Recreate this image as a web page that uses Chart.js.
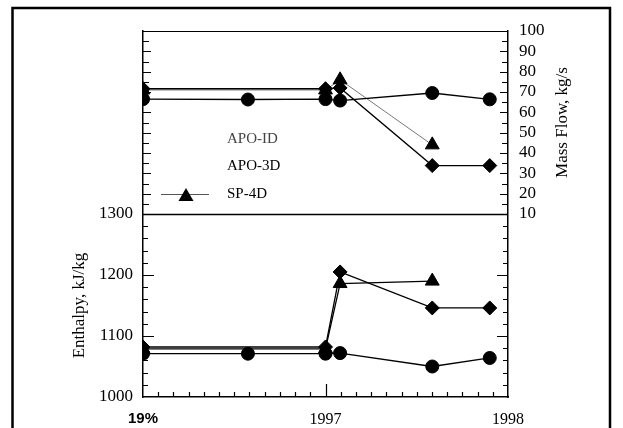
<!DOCTYPE html>
<html>
<head>
<meta charset="utf-8">
<title>Mass flow and enthalpy</title>
<script src="https://cdn.jsdelivr.net/npm/chart.js@4.4.0/dist/chart.umd.min.js"></script>
<style>
  html, body { margin: 0; padding: 0; background: #fff; }
  #wrap { position: relative; width: 623px; height: 428px; }
</style>
</head>
<body>
<div id="wrap"><canvas id="chart" width="623" height="428"></canvas></div>
<script>
// Sample dates (decimal years)
const YEARS_APO1D = [1996.0, 1996.575, 1997.0, 1997.08, 1997.585, 1997.9];
const YEARS_APO3D = [1996.0, 1997.0, 1997.08, 1997.585, 1997.9];
const YEARS_SP4D = [1996.0, 1997.0, 1997.08, 1997.585];

// Mass flow, kg/s (upper panel, right axis)
const FLOW_APO1D = [66.5, 66.3, 66.5, 65.8, 69.5, 66.4];
const FLOW_APO3D = [71.6, 71.6, 72.0, 33.8, 33.8];
const FLOW_SP4D = [71.0, 71.0, 76.0, 44.0];

// Enthalpy, kJ/kg (lower panel, left axis)
const ENTH_APO1D = [1071, 1071, 1071, 1072, 1050, 1064];
const ENTH_APO3D = [1082, 1082, 1205, 1146, 1146];
const ENTH_SP4D = [1079, 1079, 1186, 1190];

const SERIES_LABELS = ['APO-ID', 'APO-3D', 'SP-4D'];
const X_TICKS = [1996, 1997, 1998];
const X_LABELS = ['19%', '1997', '1998'];
const ENTH_TICKS = [1000, 1100, 1200, 1300];
const FLOW_TICKS = [10, 20, 30, 40, 50, 60, 70, 80, 90, 100];

const SERIF = '"Liberation Serif", "DejaVu Serif", serif';

function pts(xs, ys) {
    return xs.map((x, i) => ({ x: x, y: ys[i] }));
}

function series(label, xs, ys, axis, style, radius, color, width) {
    return {
        label: label,
        data: pts(xs, ys),
        yAxisID: axis,
        borderColor: color || '#000',
        borderWidth: width || 1.3,
        backgroundColor: '#000',
        pointBackgroundColor: '#000',
        pointBorderColor: '#000',
        pointBorderWidth: 1,
        pointStyle: style,
        pointRadius: radius,
        pointHoverRadius: radius,
        tension: 0,
        fill: false
    };
}

// Inward tick marks, panel divider, frame, axis titles and legend
const decorations = {
    id: 'decorations',
    afterDraw(chart) {
        const { ctx, chartArea: a, scales } = chart;
        const x = scales.x, yH = scales.yH, yM = scales.yM;
        const mid = yH.getPixelForValue(1300);
        ctx.save();
        ctx.strokeStyle = '#000';
        ctx.lineWidth = 1.2;
        ctx.beginPath();
        // upper panel ticks (flow, every 5)
        for (let v = 15; v <= 95; v += 5) {
            const py = Math.round(yM.getPixelForValue(v)) + 0.5;
            const len = v % 10 === 0 ? 8 : 6;
            ctx.moveTo(a.left, py); ctx.lineTo(a.left + len, py);
            ctx.moveTo(a.right, py); ctx.lineTo(a.right - len, py);
        }
        // lower panel ticks (enthalpy, every 20)
        for (let v = 1020; v < 1300; v += 20) {
            const py = Math.round(yH.getPixelForValue(v)) + 0.5;
            const len = v % 100 === 0 ? 11 : 5;
            ctx.moveTo(a.left, py); ctx.lineTo(a.left + len, py);
            ctx.moveTo(a.right, py); ctx.lineTo(a.right - len, py);
        }
        // x ticks, monthly
        for (let k = 1; k < 24; k++) {
            const px = Math.round(x.getPixelForValue(1996 + k / 12)) + 0.5;
            const len = k === 12 ? 13 : 5;
            ctx.moveTo(px, a.bottom); ctx.lineTo(px, a.bottom - len);
        }
        ctx.stroke();

        // panel divider and top edge
        ctx.lineWidth = 1.6;
        ctx.beginPath();
        ctx.moveTo(a.left, Math.round(mid) + 0.5); ctx.lineTo(a.right, Math.round(mid) + 0.5);
        ctx.stroke();
        ctx.lineWidth = 1.2;
        ctx.beginPath();
        ctx.moveTo(a.left, a.top + 0.5); ctx.lineTo(a.right, a.top + 0.5);
        ctx.stroke();

        // outer frame (open at the bottom)
        ctx.lineWidth = 2.5;
        ctx.beginPath();
        ctx.moveTo(12.5, 428); ctx.lineTo(12.5, 8); ctx.lineTo(610, 8); ctx.lineTo(610, 428);
        ctx.stroke();

        // axis titles
        ctx.fillStyle = '#000';
        ctx.font = '17px ' + SERIF;
        ctx.textAlign = 'center';
        ctx.textBaseline = 'middle';
        ctx.save();
        ctx.translate(a.left - 63, (mid + a.bottom) / 2);
        ctx.rotate(-Math.PI / 2);
        ctx.fillText('Enthalpy, kJ/kg', 0, 0);
        ctx.restore();
        ctx.save();
        ctx.translate(a.right + 55, (a.top + mid) / 2);
        ctx.rotate(-Math.PI / 2);
        ctx.fillText('Mass Flow, kg/s', 0, 0);
        ctx.restore();

        // legend
        const lx = a.left + 84;
        const rows = [a.top + 108, a.top + 135, a.top + 163];
        ctx.textAlign = 'left';
        ctx.font = '15px ' + SERIF;
        ctx.fillStyle = '#444';
        ctx.fillText(SERIES_LABELS[0], lx, rows[0]);
        ctx.fillStyle = '#000';
        ctx.fillText(SERIES_LABELS[1], lx, rows[1]);
        ctx.fillText(SERIES_LABELS[2], lx, rows[2]);
        ctx.strokeStyle = '#555';
        ctx.lineWidth = 1;
        ctx.beginPath();
        ctx.moveTo(a.left + 18, rows[2] + 0.5); ctx.lineTo(a.left + 66, rows[2] + 0.5);
        ctx.stroke();
        const tx = a.left + 43, ty = rows[2] + 2;
        ctx.beginPath();
        ctx.moveTo(tx, ty - 8); ctx.lineTo(tx + 7.5, ty + 5); ctx.lineTo(tx - 7.5, ty + 5);
        ctx.closePath();
        ctx.fill();
        ctx.restore();
    }
};

const tickFont = { family: SERIF, size: 17 };

new Chart(document.getElementById('chart'), {
    type: 'line',
    data: {
        datasets: [
            series(SERIES_LABELS[0], YEARS_APO1D, FLOW_APO1D, 'yM', 'circle', 6.5),
            series(SERIES_LABELS[1], YEARS_APO3D, FLOW_APO3D, 'yM', 'rectRot', 7),
            series(SERIES_LABELS[2], YEARS_SP4D, FLOW_SP4D, 'yM', 'triangle', 8, '#777', 1),
            series(SERIES_LABELS[0], YEARS_APO1D, ENTH_APO1D, 'yH', 'circle', 6.5),
            series(SERIES_LABELS[1], YEARS_APO3D, ENTH_APO3D, 'yH', 'rectRot', 7),
            series(SERIES_LABELS[2], YEARS_SP4D, ENTH_SP4D, 'yH', 'triangle', 8)
        ]
    },
    options: {
        responsive: false,
        animation: false,
        layout: { padding: { top: 31, left: 0, right: 0, bottom: 0 } },
        plugins: {
            legend: { display: false },
            tooltip: { enabled: false }
        },
        scales: {
            x: {
                type: 'linear',
                position: 'bottom',
                min: 1996,
                max: 1998,
                afterBuildTicks: (scale) => { scale.ticks = X_TICKS.map(v => ({ value: v })); },
                afterFit: (scale) => { scale.height = 31; },
                grid: { display: false, drawTicks: false },
                border: { display: true, color: '#000', width: 1.5 },
                ticks: {
                    autoSkip: false,
                    maxRotation: 0,
                    padding: 13,
                    color: '#000',
                    font: (c) => c.index === 0
                        ? { family: '"Liberation Sans", Arial, sans-serif', size: 15, weight: 'bold' }
                        : { family: SERIF, size: 16 },
                    callback: (value) => X_LABELS[X_TICKS.indexOf(value)]
                }
            },
            yH: {
                type: 'linear',
                position: 'left',
                min: 1000,
                max: 1600,
                afterBuildTicks: (scale) => { scale.ticks = ENTH_TICKS.map(v => ({ value: v })); },
                afterFit: (scale) => { scale.width = 143; },
                grid: { display: false, drawTicks: false },
                border: { display: true, color: '#000', width: 1.5 },
                ticks: {
                    autoSkip: false,
                    padding: 10,
                    color: '#000',
                    font: tickFont,
                    callback: (value) => String(value)
                }
            },
            yM: {
                type: 'linear',
                position: 'right',
                min: -80,
                max: 100,
                afterBuildTicks: (scale) => { scale.ticks = FLOW_TICKS.map(v => ({ value: v })); },
                afterFit: (scale) => { scale.width = 115; },
                grid: { display: false, drawTicks: false },
                border: { display: true, color: '#000', width: 1.5 },
                ticks: {
                    autoSkip: false,
                    padding: 11,
                    color: '#000',
                    font: tickFont,
                    callback: (value) => String(value)
                }
            }
        }
    },
    plugins: [decorations]
});
</script>
</body>
</html>
